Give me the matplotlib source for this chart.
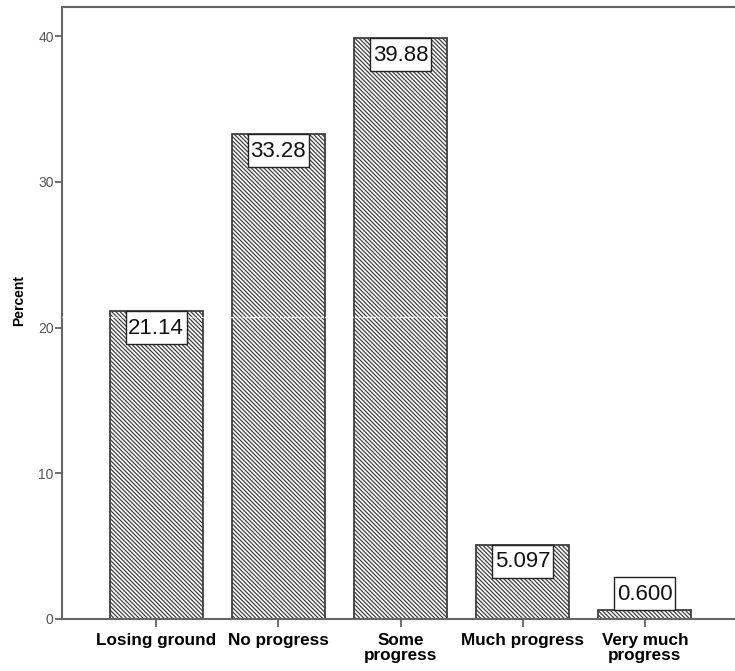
import matplotlib
matplotlib.use("Agg")
import matplotlib.pyplot as plt
from matplotlib.patches import Rectangle

categories = ["Losing ground", "No progress", "Some\nprogress", "Much progress", "Very much\nprogress"]
values = [21.14, 33.28, 39.88, 5.097, 0.600]
labels = ["21.14", "33.28", "39.88", "5.097", "0.600"]
yticks = [0, 10, 20, 30, 40]

plt.rcParams['font.family'] = ['Liberation Sans', 'DejaVu Sans']
plt.rcParams['hatch.linewidth'] = 0.9

fig = plt.figure(figsize=(7.35, 6.71), dpi=100)
ax = fig.add_axes([62/735, (671-619)/671, (739-62)/735, (619-7)/671])

x = list(range(len(categories)))
bars = ax.bar(x, values, width=0.76, color='white', edgecolor='#3f3f3f',
              linewidth=1.3, hatch='\\\\\\\\\\\\\\\\', zorder=2)

# faint SPSS artifact line seen through bars
ax.axhline(20.73, color='white', lw=0.9, ls=(0, (2, 1)), zorder=3)

ax.set_xlim(-0.77, 4.77)
ax.set_ylim(0, 42)

fs = 16
box_w = 0.5     # box width in category units
box_h = 2.27    # box height in percent units
for xi, v, lab in zip(x, values, labels):
    if v > box_h + 1:
        y0 = v - box_h
    else:
        y0 = v
    ax.add_patch(Rectangle((xi - box_w/2, y0), box_w, box_h, facecolor='white',
                           edgecolor='#222222', lw=1.0, zorder=4))
    ax.text(xi, y0 + box_h/2 - 0.05, lab, ha='center', va='center', fontsize=fs,
            color='#111111', zorder=5)

ax.set_xticks(x)
ax.set_xticklabels(categories, fontsize=12.3, fontweight='bold', color='black', linespacing=1.05)
ax.set_yticks(yticks)
ax.set_yticklabels([str(t) for t in yticks], fontsize=10, color='#555555')
ax.tick_params(axis='y', direction='out', length=5, width=1.2, color='#555555', pad=1)
ax.tick_params(axis='x', direction='out', length=6, width=1.2, color='#555555', pad=4)

for s in ['left', 'bottom', 'top']:
    ax.spines[s].set_color('#666666')
    ax.spines[s].set_linewidth(1.5)
ax.spines['right'].set_visible(False)

ax.set_ylabel('Percent', fontsize=10, fontweight='bold')
ax.yaxis.set_label_coords(-0.053, 0.52)

fig.savefig('out.png', dpi=100)
